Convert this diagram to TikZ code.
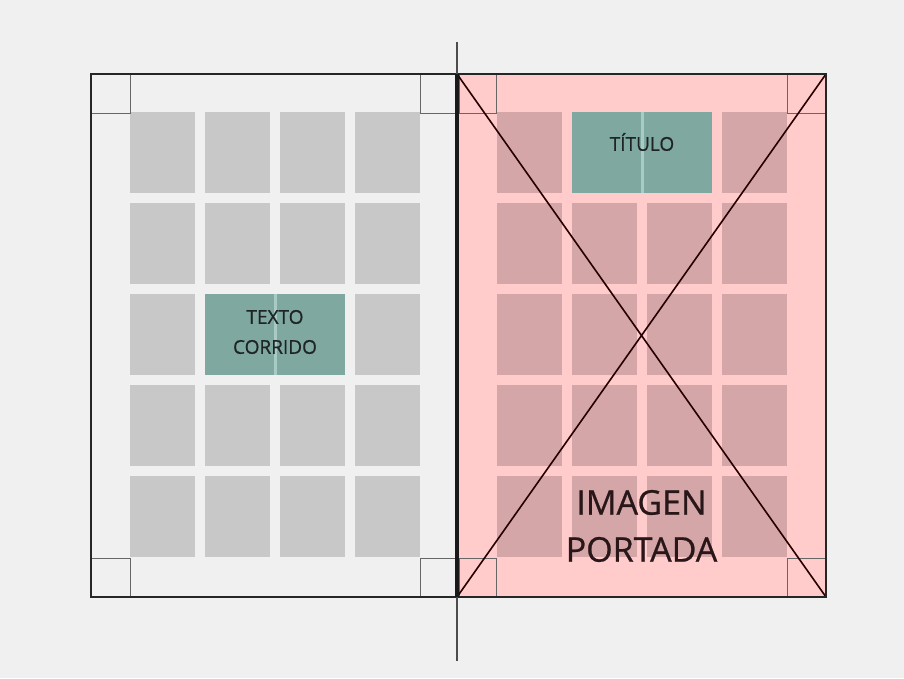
\documentclass[tikz,border=0pt]{standalone}
\definecolor{pagebg}{RGB}{240,240,240}
\definecolor{cellgray}{RGB}{200,200,200}
\definecolor{coverpink}{RGB}{255,203,203}
\definecolor{cellpink}{RGB}{213,166,168}
\definecolor{boxteal}{RGB}{127,168,160}
\definecolor{tealline}{RGB}{168,204,197}
\definecolor{textdark}{RGB}{30,36,36}
\definecolor{textbrown}{RGB}{40,22,24}
\usepackage{fontspec}
\setmainfont{Open Sans}
\newfontfamily\lblfont{Open Sans}[FakeBold=0.7]
\usepackage{tikz}

\tikzset{
  margin/.style={draw=black!60, line width=0.9pt},
  lbl/.style={text=textdark, font=\lblfont\fontsize{19}{30}\selectfont, align=center, inner sep=0pt},
  biglbl/.style={text=textbrown, font=\lblfont\fontsize{34}{47}\selectfont, align=center, inner sep=0pt}
}

\begin{document}
\begin{tikzpicture}[x=1pt, y=-1pt]
        \fill[pagebg] (0,0) rectangle (904,678);
        \useasboundingbox (0,0) rectangle (904,678);
        \fill[coverpink] (457,74) rectangle (826,597);
        % grid cells of both pages
        \foreach \c in {0,...,3}{
          \foreach \r in {0,...,4}{
            \fill[cellgray] (130+75*\c,112+91*\r) rectangle ++(65,81);
            \fill[cellpink] (497+75*\c,112+91*\r) rectangle ++(65,81);
          }
        }
        \fill[boxteal] (205,294) rectangle (345,375);
        \fill[boxteal] (572,112) rectangle (712,193);
        \draw[tealline, line width=3pt] (275,294) -- (275,375);
        \draw[tealline, line width=3pt] (642,112) -- (642,193);
        % margin corners
        \foreach \x/\y in {91/74, 420/74, 91/558, 420/558,
                           457/74, 787/74, 457/558, 787/558}{
          \draw[margin] (\x,\y) rectangle ++(39,39);
        }
        \coordinate (ptl) at (457,74);
        \coordinate (ptr) at (826,74);
        \coordinate (pbl) at (457,597);
        \coordinate (pbr) at (826,597);
        \draw[black!75!red!60!black, line width=1.6pt] (ptl) -- (pbr) (ptr) -- (pbl);
        \draw[black!85, line width=2.4pt] (91,74) rectangle (826,597);
        \draw[black!70, line width=1.3pt] (457,42) -- (457,661);
        \draw[black!90, line width=3.4pt] (ptl) -- (pbl);
        \node[lbl] (texto) at (275,332) {TEXTO\\CORRIDO};
        \node[lbl] (titulo) at (642,142) {TÍTULO};
        \node[biglbl] (imagen) at (641.5,526) {IMAGEN\\PORTADA};
      \end{tikzpicture}
\end{document}
